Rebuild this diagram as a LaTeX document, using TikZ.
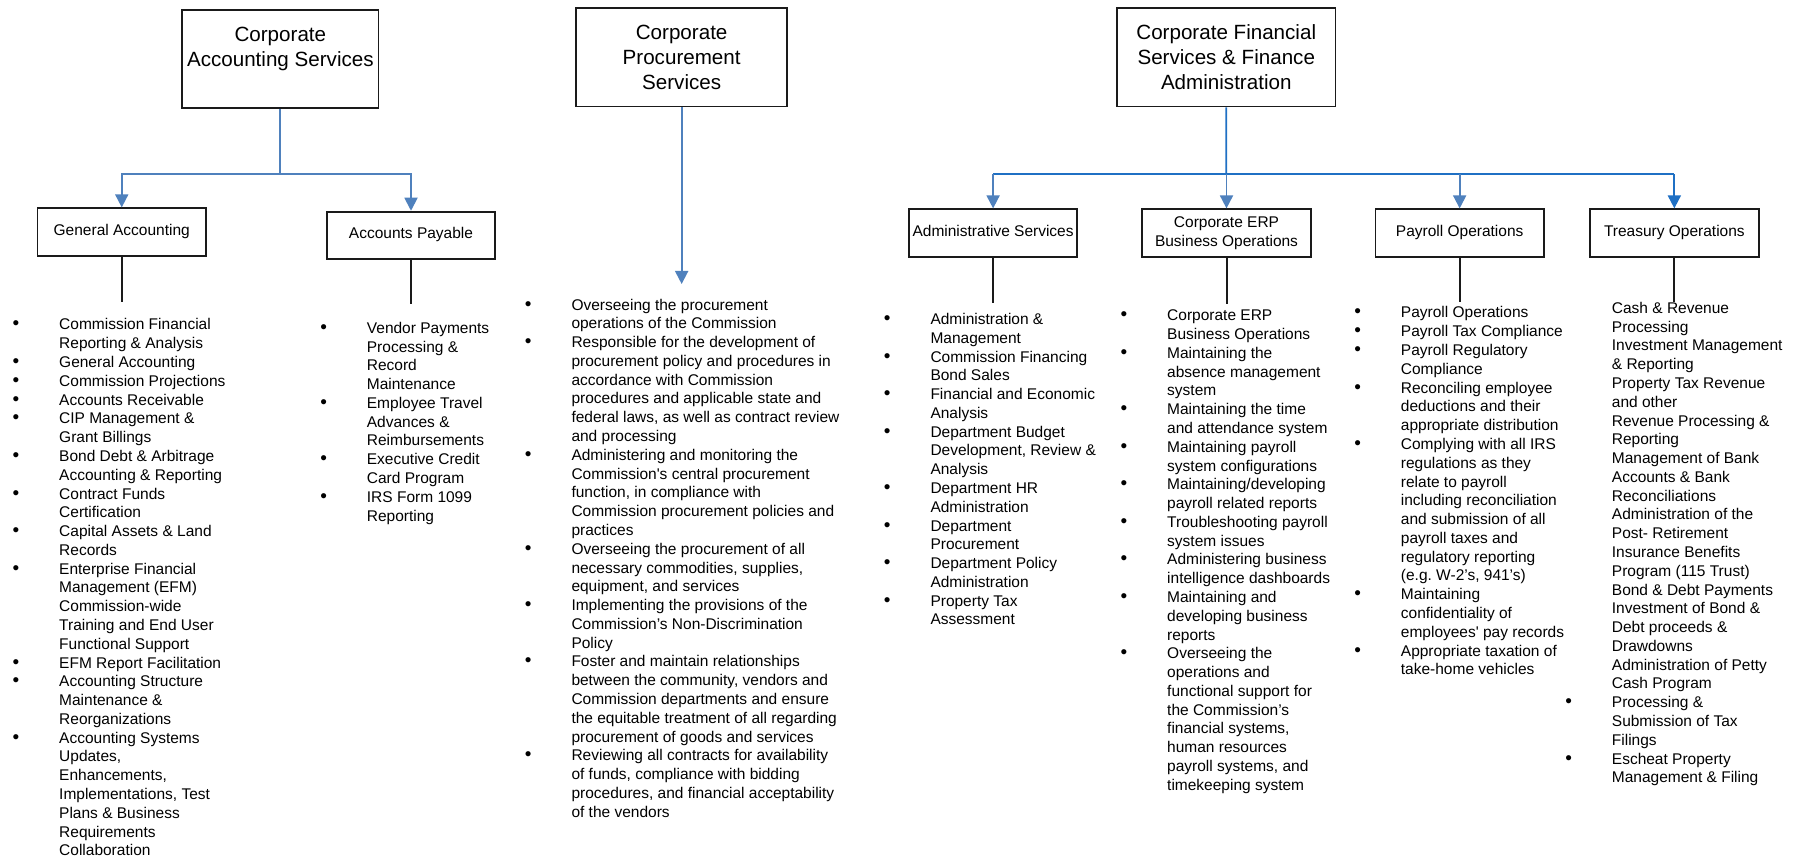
\documentclass[tikz,border=0pt]{standalone}
\usepackage{fontspec}
\setmainfont{Liberation Sans}
\usetikzlibrary{arrows.meta}
\frenchspacing
\definecolor{lb}{HTML}{4F81BD}
\definecolor{db}{HTML}{1F70C4}
\definecolor{bx}{HTML}{1A1A1A}
\newcommand\titlefs{\fontsize{20.6}{25}\selectfont}
\newcommand\boxfs{\fontsize{15.5}{19}\selectfont}
\newcommand\listfs{\fontsize{15.5}{18.78}\selectfont}
\newcommand\bulletglyph{{\fontsize{19}{19}\selectfont •}}
\newcommand\bu{\llap{\bulletglyph\hspace{40pt}}}
\newcommand\blist[1]{\begin{tabular}[t]{@{}l@{}}#1\end{tabular}}
\newcommand\tlist[1]{\begin{tabular}[t]{@{}c@{}}#1\end{tabular}}
\tikzset{
  topbox/.style={draw=bx, line width=1.8pt, minimum height=98.5pt, inner sep=0pt},
  titletext/.style={inner sep=0pt, anchor=base, font=\titlefs},
  subbox/.style={draw=bx, line width=1.8pt, minimum width=168.5pt, minimum height=47.4pt, inner sep=0pt, font=\boxfs, align=center},
  oneline/.style={text height=11.1pt, text depth=4.5pt},
  conn/.style={line width=1.8pt, -{Triangle[width=13pt,length=13pt]}},
  trunk/.style={line width=1.8pt},
  stem/.style={draw=bx, line width=2pt},
  listnode/.style={inner sep=0pt, anchor=base west, font=\listfs}
}
\begin{document}
\begin{tikzpicture}[x=1pt, y=-1pt]
\useasboundingbox[fill=white] (0,0) rectangle (1802,858);

% top boxes
\node[topbox, minimum width=196.3pt] (cas) at (280.35,59.15) {};
\node[titletext] (cast) at (280.35,41.4) {\tlist{Corporate\\Accounting Services}};
\node[topbox, minimum width=210.7pt] (cps) at (681.65,57.35) {};
\node[titletext] (cpst) at (681.65,39.1) {\tlist{Corporate\\Procurement\\Services}};
\node[topbox, minimum width=218.5pt] (cfs) at (1226.25,57.35) {};
\node[titletext] (cfst) at (1226.25,39.1) {\tlist{Corporate Financial\\Services \& Finance\\Administration}};

% sub boxes
\node[subbox, oneline] (ga) at (121.75,232) {General Accounting};
\node[subbox, oneline] (ap) at (411,235.35) {Accounts Payable};
\node[subbox, oneline] (adm) at (993.1,233) {Administrative Services};
\node[subbox] (erp) at (1226.5,233) {Corporate ERP\\Business Operations};
\node[subbox, oneline] (pay) at (1459.65,233) {Payroll Operations};
\node[subbox, oneline] (tre) at (1674.35,233) {Treasury Operations};

% connectors: accounting
\coordinate (casj) at (280.35,173.7);
\draw[trunk, lb] (cas.south) -- (casj);
\draw[conn, lb] (casj) -| (ga.north);
\draw[conn, lb] (casj) -| (ap.north);

% procurement
\coordinate (cpstip) at (681.65,284);
\draw[conn, lb] (cps.south) -- (cpstip);

% financial services
\coordinate (cfsj) at (1226.3,174.3);
\draw[trunk, db] (cfs.south) -- (cfsj);
\draw[trunk, db] (cfsj -| adm.north) -- (cfsj -| tre.north);
\draw[conn, lb] (cfsj -| adm.north) -- (adm.north);
\draw[conn, lb] (cfsj -| erp.north) -- (erp.north);
\draw[conn, lb] (cfsj -| pay.north) -- (pay.north);
\draw[conn, db] (cfsj -| tre.north) -- (tre.north);

% stems
\coordinate (gae) at (121.75,302);
\coordinate (ape) at (411,304.5);
\coordinate (adme) at (993.1,302.7);
\coordinate (erpe) at (1226.5,304);
\coordinate (paye) at (1459.65,302.5);
\coordinate (tree) at (1674.35,302.5);
\draw[stem] (ga.south) -- (gae);
\draw[stem] (ap.south) -- (ape);
\draw[stem] (adm.south) -- (adme);
\draw[stem] (erp.south) -- (erpe);
\draw[stem] (pay.south) -- (paye);
\draw[stem] (tre.south) -- (tree);

% lists
\node[listnode] (gal) at (59,330) {\blist{%
\bu Commission Financial\\
Reporting \& Analysis\\
\bu General Accounting\\
\bu Commission Projections\\
\bu Accounts Receivable\\
\bu CIP Management \&\\
Grant Billings\\
\bu Bond Debt \& Arbitrage\\
Accounting \& Reporting\\
\bu Contract Funds\\
Certification\\
\bu Capital Assets \& Land\\
Records\\
\bu Enterprise Financial\\
Management (EFM)\\
Commission-wide\\
Training and End User\\
Functional Support\\
\bu EFM Report Facilitation\\
\bu Accounting Structure\\
Maintenance \&\\
Reorganizations\\
\bu Accounting Systems\\
Updates,\\
Enhancements,\\
Implementations, Test\\
Plans \& Business\\
Requirements\\
Collaboration}};

\node[listnode] (apl) at (366.7,333.3) {\blist{%
\bu Vendor Payments\\
Processing \&\\
Record\\
Maintenance\\
\bu Employee Travel\\
Advances \&\\
Reimbursements\\
\bu Executive Credit\\
Card Program\\
\bu IRS Form 1099\\
Reporting}};

\node[listnode] (cpsl) at (571.3,310.1) {\blist{%
\bu Overseeing the procurement\\
operations of the Commission\\
\bu Responsible for the development of\\
procurement policy and procedures in\\
accordance with Commission\\
procedures and applicable state and\\
federal laws, as well as contract review\\
and processing\\
\bu Administering and monitoring the\\
Commission\textquotesingle s central procurement\\
function, in compliance with\\
Commission procurement policies and\\
practices\\
\bu Overseeing the procurement of all\\
necessary commodities, supplies,\\
equipment, and services\\
\bu Implementing the provisions of the\\
Commission’s Non-Discrimination\\
Policy\\
\bu Foster and maintain relationships\\
between the community, vendors and\\
Commission departments and ensure\\
the equitable treatment of all regarding\\
procurement of goods and services\\
\bu Reviewing all contracts for availability\\
of funds, compliance with bidding\\
procedures, and financial acceptability\\
of the vendors}};

\node[listnode] (adml) at (930.3,324.5) {\blist{%
\bu Administration \&\\
Management\\
\bu Commission Financing\\
Bond Sales\\
\bu Financial and Economic\\
Analysis\\
\bu Department Budget\\
Development, Review \&\\
Analysis\\
\bu Department HR\\
Administration\\
\bu Department\\
Procurement\\
\bu Department Policy\\
Administration\\
\bu Property Tax\\
Assessment}};

\node[listnode] (erpl) at (1167,320.8) {\blist{%
\bu Corporate ERP\\
Business Operations\\
\bu Maintaining the\\
absence management\\
system\\
\bu Maintaining the time\\
and attendance system\\
\bu Maintaining payroll\\
system configurations\\
\bu Maintaining/developing\\
payroll related reports\\
\bu Troubleshooting payroll\\
system issues\\
\bu Administering business\\
intelligence dashboards\\
\bu Maintaining and\\
developing business\\
reports\\
\bu Overseeing the\\
operations and\\
functional support for\\
the Commission’s\\
financial systems,\\
human resources\\
payroll systems, and\\
timekeeping system}};

\node[listnode] (payl) at (1400.7,318) {\blist{%
\bu Payroll Operations\\
\bu Payroll Tax Compliance\\
\bu Payroll Regulatory\\
Compliance\\
\bu Reconciling employee\\
deductions and their\\
appropriate distribution\\
\bu Complying with all IRS\\
regulations as they\\
relate to payroll\\
including reconciliation\\
and submission of all\\
payroll taxes and\\
regulatory reporting\\
(e.g. W-2’s, 941’s)\\
\bu Maintaining\\
confidentiality of\\
employees\textquotesingle\ pay records\\
\bu Appropriate taxation of\\
take-home vehicles}};

\node[listnode] (trel) at (1611.7,313.4) {\blist{%
Cash \& Revenue\\
Processing\\
Investment Management\\
\& Reporting\\
Property Tax Revenue\\
and other\\
Revenue Processing \&\\
Reporting\\
Management of Bank\\
Accounts \& Bank\\
Reconciliations\\
Administration of the\\
Post- Retirement\\
Insurance Benefits\\
Program (115 Trust)\\
Bond \& Debt Payments\\
Investment of Bond \&\\
Debt proceeds \&\\
Drawdowns\\
Administration of Petty\\
Cash Program\\
\bu Processing \&\\
Submission of Tax\\
Filings\\
\bu Escheat Property\\
Management \& Filing}};
\end{tikzpicture}
\end{document}
